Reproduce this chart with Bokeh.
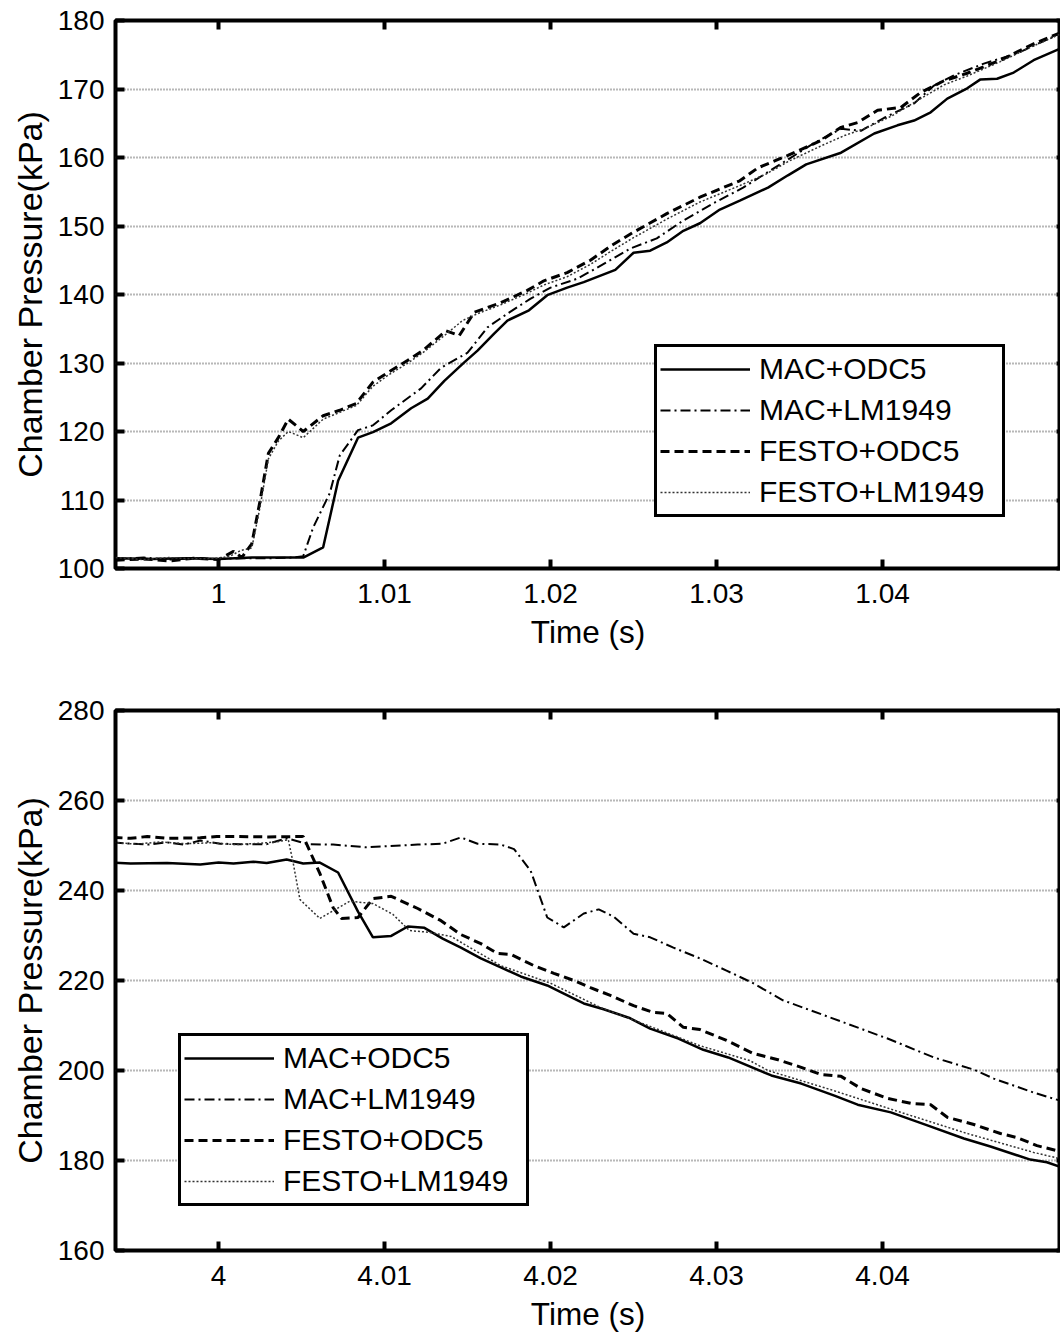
from bokeh.plotting import figure
from bokeh.layouts import column
from bokeh.models import (Range1d, FixedTicker, LinearAxis, Legend, LegendItem,
                          CustomJSTickFormatter)
from bokeh.embed import file_html
from bokeh.resources import INLINE

# ---------------- data: top panel (pressurising, around t = 1 s) ----------------
top_t_mac_odc5 = [0.9938, 0.9960, 0.9980, 1.0000, 1.0020, 1.0040, 1.0051, 1.0063, 1.0072, 1.0084,
                  1.0093, 1.0104, 1.0116, 1.0126, 1.0136, 1.0148, 1.0156, 1.0166, 1.0174, 1.0187,
                  1.0198, 1.0210, 1.0220, 1.0239, 1.0250, 1.0260, 1.0270, 1.0280, 1.0290, 1.0302,
                  1.0314, 1.0331, 1.0343, 1.0354, 1.0375, 1.0395, 1.0409, 1.0419, 1.0429, 1.0439,
                  1.0451, 1.0459, 1.0469, 1.0479, 1.0491, 1.0507]
top_p_mac_odc5 = [101.5, 101.4, 101.5, 101.4, 101.6, 101.6, 101.6, 103.1, 112.8, 119.1,
                  119.9, 121.2, 123.4, 124.8, 127.4, 130.1, 131.8, 134.3, 136.2, 137.7,
                  139.9, 141.0, 141.8, 143.6, 146.1, 146.4, 147.6, 149.3, 150.4, 152.4,
                  153.7, 155.6, 157.4, 159.0, 160.7, 163.5, 164.7, 165.4, 166.6, 168.6,
                  170.1, 171.4, 171.5, 172.4, 174.2, 175.9]

top_t_mac_lm1949 = [0.9938, 0.9955, 0.9970, 0.9985, 1.0000, 1.0015, 1.0030, 1.0045, 1.0051, 1.0057,
                    1.0067, 1.0073, 1.0084, 1.0093, 1.0104, 1.0122, 1.0134, 1.0150, 1.0162, 1.0174,
                    1.0188, 1.0200, 1.0216, 1.0228, 1.0248, 1.0264, 1.0280, 1.0298, 1.0316, 1.0339,
                    1.0358, 1.0375, 1.0387, 1.0401, 1.0419, 1.0431, 1.0443, 1.0461, 1.0481, 1.0507]
top_p_mac_lm1949 = [101.4, 101.6, 101.3, 101.5, 101.4, 101.5, 101.5, 101.6, 101.8, 106.0,
                    111.0, 116.5, 120.2, 120.9, 123.1, 126.3, 129.3, 131.5, 135.2, 137.2,
                    139.4, 141.0, 142.3, 143.9, 146.7, 148.2, 150.8, 153.3, 155.6, 159.1,
                    162.0, 164.2, 163.9, 165.8, 167.9, 170.5, 172.0, 173.7, 175.2, 178.1]

top_t_festo_odc5 = [0.9938, 0.9955, 0.9970, 0.9985, 1.0000, 1.0009, 1.0014, 1.0020, 1.0025, 1.0030,
                    1.0036, 1.0042, 1.0051, 1.0063, 1.0073, 1.0083, 1.0093, 1.0102, 1.0114, 1.0123,
                    1.0137, 1.0145, 1.0154, 1.0170, 1.0186, 1.0196, 1.0210, 1.0224, 1.0237, 1.0250,
                    1.0270, 1.0290, 1.0314, 1.0325, 1.0343, 1.0363, 1.0375, 1.0385, 1.0397, 1.0411,
                    1.0423, 1.0437, 1.0451, 1.0471, 1.0491, 1.0507]
top_p_festo_odc5 = [101.2, 101.4, 101.1, 101.5, 101.3, 102.5, 101.6, 103.6, 109.9, 116.8,
                    119.1, 121.8, 120.0, 122.3, 123.1, 124.1, 127.2, 128.6, 130.4, 131.8,
                    134.7, 134.0, 137.4, 138.8, 140.6, 142.0, 143.2, 145.0, 147.2, 149.1,
                    151.8, 154.2, 156.6, 158.5, 160.3, 162.5, 164.4, 165.1, 166.9, 167.3,
                    169.5, 171.2, 172.3, 174.2, 176.6, 178.2]

top_t_festo_lm1949 = [0.9938, 0.9955, 0.9970, 0.9985, 1.0000, 1.0007, 1.0013, 1.0020, 1.0025, 1.0030,
                      1.0036, 1.0042, 1.0051, 1.0063, 1.0073, 1.0083, 1.0093, 1.0102, 1.0114, 1.0123,
                      1.0137, 1.0147, 1.0156, 1.0170, 1.0186, 1.0196, 1.0210, 1.0224, 1.0237, 1.0250,
                      1.0270, 1.0290, 1.0314, 1.0330, 1.0343, 1.0363, 1.0377, 1.0390, 1.0405, 1.0423,
                      1.0437, 1.0451, 1.0471, 1.0491, 1.0507]
top_p_festo_lm1949 = [101.6, 101.3, 101.6, 101.4, 101.5, 101.8, 102.6, 103.0, 109.0, 116.0,
                      118.6, 120.0, 119.1, 121.8, 122.8, 123.8, 126.6, 128.2, 130.0, 131.5,
                      134.2, 136.2, 137.2, 138.5, 140.2, 141.4, 142.6, 144.4, 146.4, 148.3,
                      151.0, 153.5, 155.9, 157.6, 159.4, 161.7, 163.2, 164.3, 166.0, 168.6,
                      170.6, 171.9, 174.0, 176.3, 178.0]

# ---------------- data: bottom panel (exhausting, around t = 4 s) ----------------
bot_t_mac_odc5 = [3.99367, 3.9947, 3.9969, 3.9989, 4.0000, 4.0009, 4.0021, 4.0029, 4.0041, 4.0051,
                  4.0061, 4.0072, 4.0084, 4.0093, 4.0104, 4.0114, 4.0124, 4.0135, 4.0146, 4.0158,
                  4.0170, 4.0182, 4.0198, 4.0208, 4.0220, 4.0232, 4.0248, 4.0260, 4.0277, 4.0292,
                  4.0307, 4.0333, 4.0351, 4.0371, 4.0385, 4.0405, 4.0427, 4.0449, 4.0465, 4.0489,
                  4.0499, 4.0507]
bot_p_mac_odc5 = [246.2, 246.0, 246.1, 245.8, 246.2, 246.0, 246.4, 246.1, 246.9, 246.0,
                  246.2, 244.0, 235.3, 229.6, 229.9, 232.0, 231.7, 229.3, 227.3, 224.9,
                  222.9, 220.9, 218.9, 217.1, 214.9, 213.6, 211.6, 209.3, 207.1, 204.6,
                  202.9, 198.9, 197.1, 194.4, 192.4, 190.7, 187.8, 184.9, 183.1, 180.2,
                  179.6, 178.6]

bot_t_mac_lm1949 = [3.99367, 3.9947, 3.9958, 3.9969, 3.9979, 3.9989, 4.0001, 4.0013, 4.0029, 4.0041,
                    4.0054, 4.0069, 4.0089, 4.0099, 4.0120, 4.0135, 4.0146, 4.0156, 4.0170, 4.0178,
                    4.0188, 4.0198, 4.0208, 4.0220, 4.0229, 4.0238, 4.0250, 4.0260, 4.0274, 4.0290,
                    4.0306, 4.0321, 4.0340, 4.0375, 4.0403, 4.0431, 4.0455, 4.0467, 4.0491, 4.0507]
bot_p_mac_lm1949 = [250.7, 250.4, 250.2, 250.7, 250.2, 251.1, 250.4, 250.3, 250.3, 251.6,
                    250.3, 250.2, 249.6, 249.8, 250.2, 250.4, 251.8, 250.4, 250.2, 249.2,
                    244.4, 234.0, 231.8, 234.9, 235.8, 234.2, 230.4, 229.6, 227.3, 224.9,
                    222.2, 219.6, 215.6, 210.9, 207.1, 202.9, 200.2, 198.2, 195.1, 193.3]

bot_t_festo_odc5 = [3.99367, 3.9947, 3.9957, 3.9969, 3.9989, 3.9999, 4.0010, 4.0030, 4.0051, 4.0061,
                    4.0069, 4.0074, 4.0084, 4.0093, 4.0104, 4.0120, 4.0134, 4.0146, 4.0158, 4.0168,
                    4.0176, 4.0190, 4.0202, 4.0214, 4.0224, 4.0236, 4.0250, 4.0262, 4.0270, 4.0280,
                    4.0290, 4.0306, 4.0322, 4.0337, 4.0351, 4.0363, 4.0375, 4.0387, 4.0403, 4.0417,
                    4.0429, 4.0439, 4.0455, 4.0471, 4.0481, 4.0493, 4.0507]
bot_p_festo_odc5 = [251.8, 251.6, 252.0, 251.6, 251.7, 252.0, 252.0, 251.9, 252.0, 243.8,
                    236.2, 233.8, 234.0, 238.2, 238.7, 236.0, 233.3, 230.2, 228.2, 226.0,
                    225.8, 223.3, 221.6, 220.0, 218.4, 216.7, 214.4, 212.9, 212.7, 209.6,
                    209.1, 206.7, 203.8, 202.4, 200.7, 199.1, 198.7, 196.0, 193.8, 192.7,
                    192.4, 189.6, 188.0, 186.0, 185.1, 183.3, 182.0]

bot_t_festo_lm1949 = [3.99367, 3.9950, 3.9965, 3.9980, 3.9995, 4.0010, 4.0025, 4.0035, 4.0042, 4.0045,
                      4.0049, 4.0061, 4.0079, 4.0093, 4.0105, 4.0115, 4.0127, 4.0140, 4.0170, 4.0200,
                      4.0230, 4.0260, 4.0290, 4.0320, 4.0331, 4.0370, 4.0411, 4.0451, 4.0491, 4.0507]
bot_p_festo_lm1949 = [250.7, 250.3, 250.8, 250.4, 250.6, 250.2, 250.5, 250.8, 251.3, 246.0,
                      238.0, 233.8, 237.6, 237.1, 234.7, 231.1, 230.7, 229.8, 223.3, 219.4,
                      214.0, 209.8, 205.5, 202.2, 200.0, 195.6, 190.7, 186.0, 181.8, 180.4]

series_labels = ["MAC+ODC5", "MAC+LM1949", "FESTO+ODC5", "FESTO+LM1949"]

top_xticks = [1.0, 1.01, 1.02, 1.03, 1.04]
top_yticks = [100, 110, 120, 130, 140, 150, 160, 170, 180]
bot_xticks = [4.0, 4.01, 4.02, 4.03, 4.04]
bot_yticks = [160, 180, 200, 220, 240, 260, 280]

top_xlim = (0.99379, 1.05072)
top_ylim = (100, 180)
bot_xlim = (3.99379, 4.05072)
bot_ylim = (160, 280)

FONT = "Liberation Sans"
styles = [
    dict(line_color="black", line_width=2.5),
    dict(line_color="black", line_width=2, line_dash="10 4 2 4"),
    dict(line_color="black", line_width=3, line_dash="9 5"),
    dict(line_color="#333333", line_width=1.5, line_dash="2 2"),
]

fmt = CustomJSTickFormatter(code="var s = tick.toFixed(2); s = s.replace(/0+$/, ''); return s.replace(/\\.$/, '');")


def make_panel(height, border_bottom, xlim, ylim, xticks, yticks, series, legend_loc):
    p = figure(width=1060, height=height, x_range=Range1d(*xlim), y_range=Range1d(*ylim),
               output_backend="svg", toolbar_location=None,
               min_border_left=115, min_border_right=0, min_border_top=20,
               min_border_bottom=border_bottom)
    p.outline_line_color = "black"
    p.outline_line_width = 4
    p.outline_line_alpha = 1
    p.background_fill_color = "white"
    p.border_fill_color = "white"

    p.xaxis.ticker = FixedTicker(ticks=xticks)
    p.yaxis.ticker = FixedTicker(ticks=yticks)
    p.xaxis.formatter = fmt
    for ax in (p.xaxis[0], p.yaxis[0]):
        ax.axis_line_color = None
        ax.major_tick_in = 9
        ax.major_tick_out = 0
        ax.major_tick_line_width = 4
        ax.major_tick_line_color = "black"
        ax.minor_tick_line_color = None
        ax.major_label_text_font = FONT
        ax.major_label_text_font_size = "28px"
        ax.major_label_text_color = "black"
        ax.axis_label_text_font = FONT
        ax.axis_label_text_font_style = "normal"
        ax.axis_label_text_color = "black"
    p.xaxis.axis_label_text_font_size = "31.5px"
    p.yaxis.axis_label_text_font_size = "34px"
    p.xaxis.major_label_standoff = 15
    p.yaxis.major_label_standoff = 11
    p.xaxis.axis_label = "Time (s)"
    p.yaxis.axis_label = "Chamber Pressure(kPa)"
    p.xaxis.axis_label_standoff = 8
    p.yaxis.axis_label_standoff = 6

    empty = CustomJSTickFormatter(code="return '';")
    top_ax = LinearAxis(ticker=FixedTicker(ticks=xticks), formatter=empty,
                        axis_line_color=None, major_tick_in=9, major_tick_out=0,
                        major_tick_line_width=4, minor_tick_line_color=None,
                        major_label_text_font_size="0px", major_label_standoff=0)
    right_ax = LinearAxis(ticker=FixedTicker(ticks=yticks), formatter=empty,
                          axis_line_color=None, major_tick_in=4, major_tick_out=0,
                          major_tick_line_width=4, minor_tick_line_color=None,
                          major_label_text_font_size="0px", major_label_standoff=0)
    p.add_layout(top_ax, "above")
    p.add_layout(right_ax, "right")

    p.xgrid.visible = False
    p.ygrid.ticker = FixedTicker(ticks=yticks)
    p.ygrid.grid_line_color = "#707070"
    p.ygrid.grid_line_width = 2
    p.ygrid.grid_line_dash = "1 2"

    items = []
    for (t, v), lab, st in zip(series, series_labels, styles):
        r = p.line(t, v, **st)
        items.append(LegendItem(label=lab, renderers=[r]))

    leg = Legend(items=items, location=legend_loc)
    leg.label_text_font = FONT
    leg.label_text_font_size = "30px"
    leg.label_text_color = "black"
    leg.border_line_color = "black"
    leg.border_line_width = 3
    leg.border_line_alpha = 1
    leg.background_fill_color = "white"
    leg.background_fill_alpha = 1
    leg.glyph_width = 90
    leg.glyph_height = 20
    leg.label_standoff = 9
    leg.label_height = 38
    leg.label_width = 240
    leg.padding = 3
    leg.spacing = 3
    leg.margin = 0
    p.add_layout(leg)
    return p


p1 = make_panel(690, 122, top_xlim, top_ylim, top_xticks, top_yticks,
                [(top_t_mac_odc5, top_p_mac_odc5), (top_t_mac_lm1949, top_p_mac_lm1949),
                 (top_t_festo_odc5, top_p_festo_odc5), (top_t_festo_lm1949, top_p_festo_lm1949)],
                (539, 51))
p2 = make_panel(651, 91, bot_xlim, bot_ylim, bot_xticks, bot_yticks,
                [(bot_t_mac_odc5, bot_p_mac_odc5), (bot_t_mac_lm1949, bot_p_mac_lm1949),
                 (bot_t_festo_odc5, bot_p_festo_odc5), (bot_t_festo_lm1949, bot_p_festo_lm1949)],
                (63, 44))

layout = column(p1, p2, spacing=0)
open("out.html", "w").write(file_html(layout, INLINE))
